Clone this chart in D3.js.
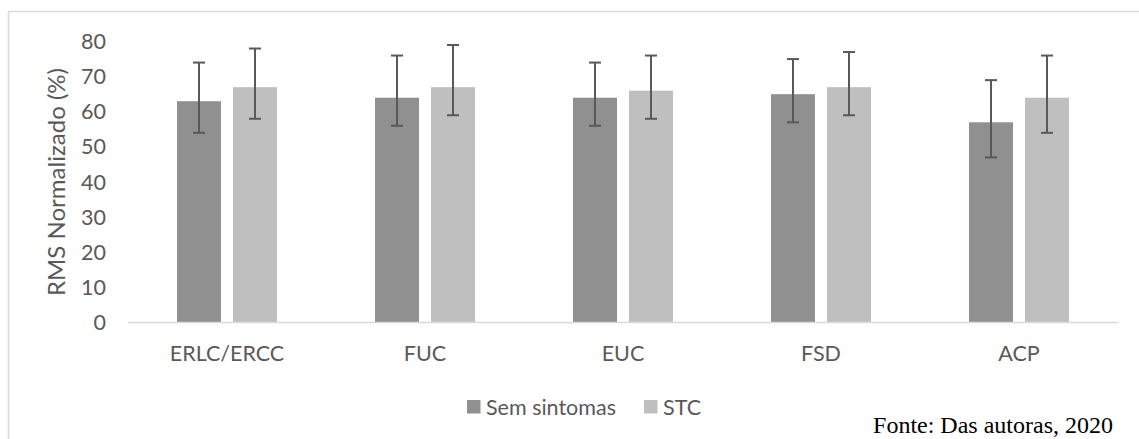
<!DOCTYPE html>
<html><head><meta charset="utf-8">
<script src="https://cdn.jsdelivr.net/npm/d3@7/dist/d3.min.js"></script>
<style>body{margin:0;background:#fff}svg{display:block}</style>
</head><body>
<svg id="c" width="1139" height="439"></svg>
<script>
const categories = ["ERLC/ERCC", "FUC", "EUC", "FSD", "ACP"];
const seriesNames = ["Sem sintomas", "STC"];
const semMean  = [63, 64, 64, 65, 57];
const semUpper = [74, 76, 74, 75, 69];
const semLower = [54, 56, 56, 57, 47];
const stcMean  = [67, 67, 66, 67, 64];
const stcUpper = [78, 79, 76, 77, 76];
const stcLower = [58, 59, 58, 59, 54];
const yTicks = [0, 10, 20, 30, 40, 50, 60, 70, 80];
const colors = ["#909090", "#bfbfbf"];

const svg = d3.select("#c");
const font = "Lato, 'Open Sans', sans-serif";
const txt = "#595959";
const fs = "21.5px";

// frame
svg.append("rect").attr("x", 8.5).attr("y", 11.5).attr("width", 1140).attr("height", 440)
  .attr("fill", "none").attr("stroke", "#d9d9d9").attr("stroke-width", 1.5);

const x0 = d3.scaleBand().domain(categories).range([128, 1118]).padding(0);
const x1 = d3.scaleBand().domain(seriesNames).range([49, 149]).paddingInner(0.214);
const y = d3.scaleLinear().domain([0, 80]).range([322.5, 41.5]);

// y tick labels
svg.append("g").selectAll("text").data(yTicks).join("text")
  .attr("x", 106).attr("y", d => y(d)).attr("dy", "0.35em")
  .attr("text-anchor", "end").attr("fill", txt)
  .style("font-family", font).style("font-size", fs).text(d => d);

const data = categories.map((c, i) => ({
  cat: c,
  vals: [
    {s: seriesNames[0], m: semMean[i], hi: semUpper[i], lo: semLower[i], col: colors[0]},
    {s: seriesNames[1], m: stcMean[i], hi: stcUpper[i], lo: stcLower[i], col: colors[1]}
  ]
}));

const g = svg.append("g").selectAll("g").data(data).join("g")
  .attr("transform", d => `translate(${x0(d.cat)},0)`);

g.selectAll("rect").data(d => d.vals).join("rect")
  .attr("x", d => x1(d.s)).attr("width", x1.bandwidth())
  .attr("y", d => y(d.m)).attr("height", d => y(0) - y(d.m))
  .attr("fill", d => d.col);

// axis line
svg.append("line").attr("x1", 128).attr("x2", 1118).attr("y1", y(0)).attr("y2", y(0))
  .attr("stroke", "#d9d9d9").attr("stroke-width", 1.5);

// error bars
const eb = g.selectAll("g.eb").data(d => d.vals).join("g").attr("class", "eb");
const cx = d => x1(d.s) + x1.bandwidth() / 2;
eb.append("line").attr("x1", cx).attr("x2", cx).attr("y1", d => y(d.hi)).attr("y2", d => y(d.lo))
  .attr("stroke", "#595959").attr("stroke-width", 2);
eb.append("line").attr("x1", d => cx(d) - 6).attr("x2", d => cx(d) + 6).attr("y1", d => y(d.hi)).attr("y2", d => y(d.hi))
  .attr("stroke", "#595959").attr("stroke-width", 2);
eb.append("line").attr("x1", d => cx(d) - 6).attr("x2", d => cx(d) + 6).attr("y1", d => y(d.lo)).attr("y2", d => y(d.lo))
  .attr("stroke", "#595959").attr("stroke-width", 2);

// category labels
svg.append("g").selectAll("text").data(categories).join("text")
  .attr("x", d => x0(d) + x0.bandwidth() / 2).attr("y", 361)
  .attr("text-anchor", "middle").attr("fill", txt)
  .style("font-family", font).style("font-size", fs).text(d => d);

// y title
svg.append("text").attr("transform", `translate(65,${(y(0) + y(80)) / 2}) rotate(-90)`)
  .attr("text-anchor", "middle").attr("fill", txt)
  .style("font-family", font).style("font-size", "24px").text("RMS Normalizado (%)");

// legend
const legX = [467, 644];
const lg = svg.append("g").selectAll("g").data(seriesNames).join("g")
  .attr("transform", (d, i) => `translate(${legX[i]},400)`);
lg.append("rect").attr("width", 13.5).attr("height", 13.5).attr("fill", (d, i) => colors[i]);
lg.append("text").attr("x", 19).attr("y", 7).attr("dy", "0.35em").attr("fill", txt)
  .style("font-family", font).style("font-size", fs).text(d => d);

// source
svg.append("text").attr("x", 1113).attr("y", 433).attr("text-anchor", "end").attr("fill", "#000")
  .style("font-family", "'Liberation Serif', 'Times New Roman', serif").style("font-size", "24px")
  .text("Fonte: Das autoras, 2020");
</script>
</body></html>
